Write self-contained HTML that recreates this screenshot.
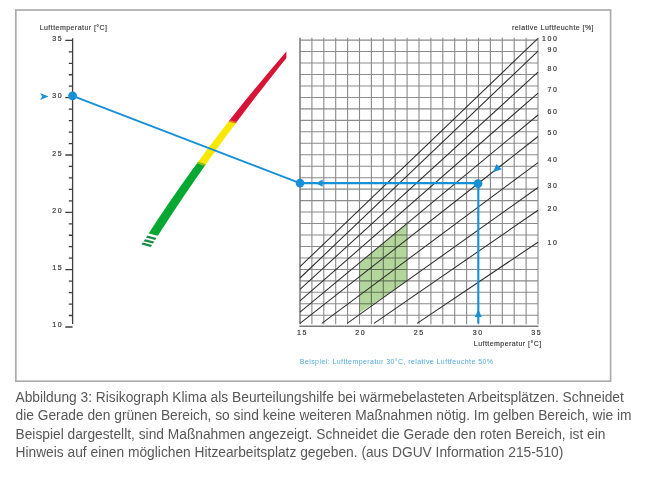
<!DOCTYPE html>
<html><head><meta charset="utf-8"><title>Risikograph Klima</title>
<style>
html,body{margin:0;padding:0;background:#fff;}
body{width:650px;height:479px;overflow:hidden;position:relative;}
svg{position:absolute;left:0;top:0;}
text{font-family:"Liberation Sans",Arial,sans-serif;}
.lab{font-size:7px;fill:#3a3a3a;letter-spacing:0.45px;stroke:#3a3a3a;stroke-width:0.15px;}
.num{font-size:7px;fill:#3a3a3a;letter-spacing:1.6px;stroke:#3a3a3a;stroke-width:0.2px;}
.blue{font-size:7px;fill:#52aadb;letter-spacing:0.42px;}
.ax{stroke:#3f3f3f;stroke-width:1.3;fill:none;}
.tick{stroke:#3f3f3f;stroke-width:1.3;fill:none;}
.grid{stroke:#8a8a8a;stroke-width:1.1;fill:none;}
.gridh{stroke:#8c8c8c;stroke-width:1.05;fill:none;}
.gridedge{stroke:#787878;stroke-width:1.5;fill:none;}
.gridbot{stroke:#7a7a7a;stroke-width:1.6;fill:none;}
.diag{stroke:#2f2f2f;stroke-width:1.05;fill:none;}
.cap{position:absolute;left:15.5px;top:388.9px;width:640px;margin:0;font-family:"Liberation Sans",Arial,sans-serif;font-size:13.78px;line-height:18.5px;color:#585858;white-space:nowrap;}
</style></head><body>
<svg width="650" height="479" viewBox="0 0 650 479">
<rect x="15.8" y="10" width="594.8" height="371.2" fill="none" stroke="#acacac" stroke-width="1.7"/>
<text class="lab" x="39.7" y="30.2">Lufttemperatur [°C]</text>
<text class="lab" x="512.0" y="29.8">relative Luftfeuchte [%]</text>
<path d="M72.6 38.2V324" class="ax"/>
<text class="num" x="63.2" y="327.48" text-anchor="end">10</text>
<text class="num" x="63.2" y="270.15" text-anchor="end">15</text>
<text class="num" x="63.2" y="212.82" text-anchor="end">20</text>
<text class="num" x="63.2" y="155.5" text-anchor="end">25</text>
<text class="num" x="63.2" y="98.18" text-anchor="end">30</text>
<text class="num" x="63.2" y="40.85" text-anchor="end">35</text>
<path d="M65.3 326.98H72.6M68.8 315.51H72.6M68.8 304.05H72.6M68.8 292.58H72.6M68.8 281.12H72.6M65.3 269.65H72.6M68.8 258.19H72.6M68.8 246.72H72.6M68.8 235.25H72.6M68.8 223.79H72.6M65.3 212.32H72.6M68.8 200.86H72.6M68.8 189.39H72.6M68.8 177.93H72.6M68.8 166.47H72.6M65.3 155H72.6M68.8 143.53H72.6M68.8 132.07H72.6M68.8 120.6H72.6M68.8 109.14H72.6M65.3 97.68H72.6M68.8 86.21H72.6M68.8 74.75H72.6M68.8 63.28H72.6M68.8 51.81H72.6M65.3 40.35H72.6" class="tick"/>
<path d="M300.0 40.1H538.0M300.0 51.56H538.0M300.0 63.03H538.0M300.0 74.5H538.0M300.0 85.96H538.0M300.0 97.43H538.0M300.0 108.89H538.0M300.0 120.35H538.0M300.0 131.82H538.0M300.0 143.28H538.0M300.0 154.75H538.0M300.0 166.22H538.0M300.0 177.68H538.0M300.0 189.14H538.0M300.0 200.61H538.0M300.0 212.07H538.0M300.0 223.54H538.0M300.0 235H538.0M300.0 246.47H538.0M300.0 257.94H538.0M300.0 269.4H538.0M300.0 280.87H538.0M300.0 292.33H538.0M300.0 303.8H538.0M300.0 315.26H538.0" class="gridh"/>
<path d="M311.9 37.8V324.2M323.8 37.8V324.2M335.7 37.8V324.2M347.6 37.8V324.2M359.5 37.8V324.2M371.4 37.8V324.2M383.3 37.8V324.2M395.2 37.8V324.2M407.1 37.8V324.2M419 37.8V324.2M430.9 37.8V324.2M442.8 37.8V324.2M454.7 37.8V324.2M466.6 37.8V324.2M478.5 37.8V324.2M490.4 37.8V324.2M502.3 37.8V324.2M514.2 37.8V324.2M526.1 37.8V324.2M538 37.8V324.2" class="grid"/>
<path d="M300.0 37.8V324.2" class="gridedge"/>
<path d="M299.4 326.3H538.4" class="gridbot"/>
<polygon points="359.5,262.83 407.1,223.4 407.1,280.69 359.5,313.07" fill="#b3d69c" style="mix-blend-mode:multiply"/>
<path d="M300 266.7L538.0 38.3M300 278L538.0 51.1M300 289.3L538.0 72.2M300 300.9L538.0 93.1M300 312.1L538.0 115M300 323.4L538.0 136.5M321.8 323.4L538.0 162.6M347.1 323.4L538.0 187.5M374 323.4L538.0 210.2M417.1 323.4L538.0 242.2" class="diag"/>
<text class="num" x="558.5" y="41.2" text-anchor="end">100</text>
<text class="num" x="558.5" y="52" text-anchor="end">90</text>
<text class="num" x="558.5" y="70.9" text-anchor="end">80</text>
<text class="num" x="558.5" y="92.2" text-anchor="end">70</text>
<text class="num" x="558.5" y="114.4" text-anchor="end">60</text>
<text class="num" x="558.5" y="134.8" text-anchor="end">50</text>
<text class="num" x="558.5" y="162" text-anchor="end">40</text>
<text class="num" x="558.5" y="188" text-anchor="end">30</text>
<text class="num" x="558.5" y="211.3" text-anchor="end">20</text>
<text class="num" x="558.5" y="245" text-anchor="end">10</text>
<text class="num" x="302.6" y="334.6" text-anchor="middle">15</text>
<text class="num" x="360.8" y="334.6" text-anchor="middle">20</text>
<text class="num" x="419.3" y="334.6" text-anchor="middle">25</text>
<text class="num" x="478.3" y="334.6" text-anchor="middle">30</text>
<text class="num" x="536.7" y="334.6" text-anchor="middle">35</text>
<text class="lab" x="473.8" y="345.5">Lufttemperatur [°C]</text>
<text class="blue" x="299.8" y="364.0">Beispiel: Lufttemperatur 30°C, relative Luftfeuchte 50%</text>
<clipPath id="bc"><rect x="100" y="51.6" width="186.4" height="250"/></clipPath>
<g clip-path="url(#bc)">
<polygon points="228.76,121.3 235.44,112.82 242.21,104.34 249.07,95.87 256.01,87.39 263.04,78.91 270.16,70.43 277.36,61.96 284.66,53.48 292.04,45 297.13,45 290.02,53.68 282.99,62.36 276.04,71.03 269.15,79.71 262.34,88.39 255.61,97.07 248.94,105.74 242.35,114.42 235.84,123.1" fill="#d81436"/>
<polygon points="197.33,162.8 200.75,158.14 204.2,153.49 207.68,148.83 211.18,144.18 214.7,139.52 218.26,134.87 221.84,130.21 225.44,125.56 229.08,120.9 236.14,122.7 232.62,127.42 229.12,132.14 225.65,136.87 222.2,141.59 218.77,146.31 215.36,151.03 211.97,155.76 208.6,160.48 205.26,165.2" fill="#f8e800"/>
<polygon points="148.69,233.4 153.82,225.51 159.03,217.62 164.32,209.73 169.68,201.84 175.12,193.96 180.63,186.07 186.22,178.18 191.88,170.29 197.63,162.4 205.54,164.8 200.01,172.68 194.54,180.56 189.12,188.43 183.77,196.31 178.48,204.19 173.25,212.07 168.08,219.94 162.97,227.82 157.92,235.7" fill="#07a832"/>
</g>
<polygon points="228.37,121.8 229,121 229.63,120.2 236.66,122 236.06,122.8 235.46,123.6" fill="#ec7a1e"/>
<polygon points="196.75,163.6 197.41,162.7 198.07,161.8 205.97,164.2 205.33,165.1 204.7,166" fill="#86c21c"/>
<polygon points="145.99,237.6 146.63,236.6 147.27,235.6 156.52,237.9 155.88,238.9 155.25,239.9" fill="#1b8c47"/>
<polygon points="143.69,241.2 144.33,240.2 144.97,239.2 154.24,241.5 153.6,242.5 152.97,243.5" fill="#1b8c47"/>
<polygon points="141.53,244.6 142.17,243.6 142.8,242.6 152.09,244.9 151.47,245.9 150.84,246.9" fill="#1b8c47"/>
<path d="M72.6 95.9L300 183.2" stroke="#1690d6" stroke-width="1.9" fill="none"/>
<path d="M300 183.2H478.2" stroke="#1690d6" stroke-width="2.2" fill="none"/>
<path d="M478.3 183.5V323.6" stroke="#1690d6" stroke-width="2.1" fill="none"/>
<circle cx="72.6" cy="95.8" r="4.4" fill="#1690d6"/>
<circle cx="300" cy="183.1" r="4.3" fill="#1690d6"/>
<circle cx="478" cy="183.6" r="4.4" fill="#1690d6"/>
<path d="M40 92.9L48.6 96.4L40 99.9L42.3 96.4Z" fill="#1690d6"/>
<path d="M315.8 183.2L322.7 179.6V186.8Z" fill="#1690d6"/>
<path d="M478.3 309.8L481.9 316.9H474.7Z" fill="#1690d6"/>
<path d="M493.0 172.3L496.5 164.1L501.7 169.3Z" fill="#1690d6"/>
</svg>
<p class="cap">Abbildung 3: Risikograph Klima als Beurteilungshilfe bei wärmebelasteten Arbeitsplätzen. Schneidet<br>die Gerade den grünen Bereich, so sind keine weiteren Maßnahmen nötig. Im gelben Bereich, wie im<br>Beispiel dargestellt, sind Maßnahmen angezeigt. Schneidet die Gerade den roten Bereich, ist ein<br>Hinweis auf einen möglichen Hitzearbeitsplatz gegeben. (aus DGUV Information 215-510)</p>
</body></html>
